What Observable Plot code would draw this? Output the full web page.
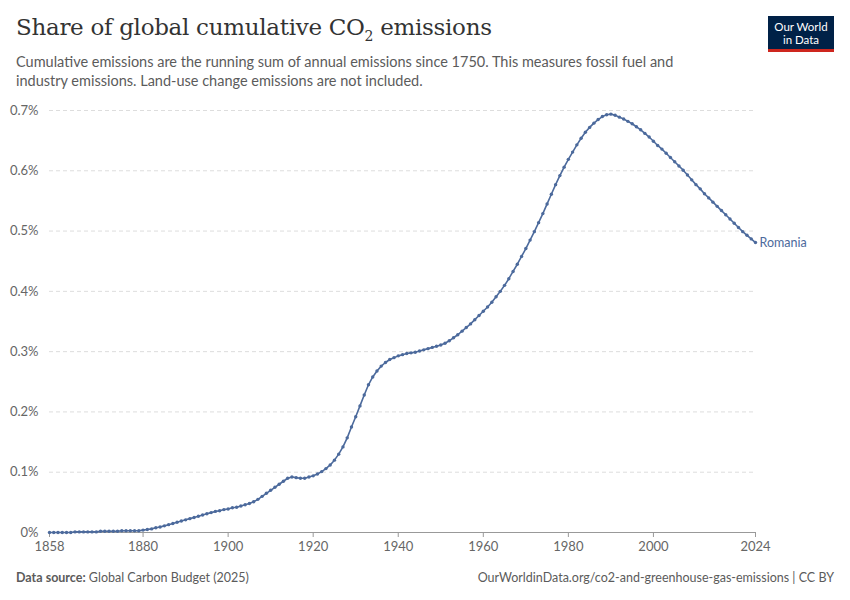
<!DOCTYPE html>
<html><head><meta charset="utf-8">
<script src="https://cdn.jsdelivr.net/npm/d3@7"></script>
<script src="https://cdn.jsdelivr.net/npm/@observablehq/plot@0.6"></script>
<style>
body{margin:0;background:#fff;font-family:Lato,sans-serif;}
#wrap{position:relative;width:850px;height:600px;}
h1{font-family:"DejaVu Serif",serif;font-weight:normal;font-size:23px;color:#333;margin:0;position:absolute;left:16px;top:14px;letter-spacing:-0.3px}
.sub{position:absolute;left:16px;top:52px;width:700px;font-size:14.5px;color:#5b5b5b;line-height:19px}
.logo{position:absolute;right:16px;top:16px;width:66px;height:36px;background:#002147;color:#fff;font-size:11.5px;text-align:center;line-height:13px;padding-top:4px;box-sizing:border-box;border-bottom:3px solid #ce261e}
#chart{position:absolute;left:0;top:96px}
.foot{position:absolute;top:570px;font-size:12.5px;color:#5b5b5b}
</style></head><body><div id="wrap">
<h1>Share of global cumulative CO<sub style="font-size:14px">2</sub> emissions</h1>
<div class="sub">Cumulative emissions are the running sum of annual emissions since 1750. This measures fossil fuel and industry emissions. Land-use change emissions are not included.</div>
<div class="logo">Our World<br>in Data</div>
<div id="chart"></div>
<div class="foot" style="left:16px"><b>Data source:</b> Global Carbon Budget (2025)</div>
<div class="foot" style="right:16px">OurWorldinData.org/co2-and-greenhouse-gas-emissions | CC BY</div>
</div>
<script>
const startYear = 1858;
const share = [
0,0,0,0,0,0,0.001,0.001,0.001,0.001,0.001,0.001,
0.002,0.002,0.002,0.002,0.002,0.003,0.003,0.003,0.003,0.003,
0.004,0.005,0.006,0.008,0.009,0.011,0.013,0.015,0.017,0.019,
0.021,0.023,0.025,0.027,0.029,0.031,0.033,0.035,0.036,0.038,
0.039,0.041,0.042,0.044,0.046,0.048,0.051,0.055,0.060,0.065,
0.070,0.075,0.080,0.085,0.090,0.092,0.091,0.090,0.090,0.092,
0.094,0.097,0.101,0.106,0.112,0.120,0.130,0.142,0.157,0.175,
0.192,0.210,0.228,0.245,0.258,0.268,0.276,0.282,0.287,0.290,
0.293,0.295,0.297,0.298,0.299,0.301,0.303,0.305,0.307,0.309,
0.311,0.314,0.318,0.323,0.328,0.334,0.340,0.346,0.353,0.360,
0.367,0.374,0.382,0.391,0.400,0.410,0.421,0.433,0.445,0.458,
0.471,0.485,0.499,0.514,0.529,0.545,0.561,0.577,0.592,0.606,
0.619,0.631,0.643,0.654,0.664,0.672,0.679,0.685,0.690,0.693,
0.694,0.692,0.689,0.686,0.682,0.678,0.673,0.668,0.662,0.656,
0.649,0.642,0.636,0.629,0.622,0.615,0.608,0.601,0.593,0.585,
0.577,0.570,0.562,0.555,0.548,0.541,0.534,0.527,0.520,0.513,
0.506,0.499,0.493,0.487,0.481];
const xTicks = [1858,1880,1900,1920,1940,1960,1980,2000,2024];
const yTicks = [0,0.1,0.2,0.3,0.4,0.5,0.6,0.7];
const country = "Romania";
const data = share.map((v,i)=>({year:startYear+i, v}));
const last = data[data.length-1];
const color = "#4c6a9c";
const plot = Plot.plot({
  width:850, height:468, marginLeft:49, marginRight:95, marginTop:14, marginBottom:32,
  style:{fontFamily:"Lato,sans-serif", fontSize:"13px", color:"#666"},
  x:{domain:[1858,2024], label:null},
  y:{domain:[0,0.7], label:null},
  marks:[
    Plot.gridY(yTicks,{stroke:"#ddd", strokeOpacity:1, strokeDasharray:"4,3"}),
    Plot.ruleY([0],{stroke:"#999"}),
    Plot.axisX({ticks:xTicks, tickFormat:d=>String(d), tickSize:5, stroke:"#999", fill:"#666"}),
    Plot.axisY({ticks:yTicks, tickFormat:d=>(d===0?"0":d.toFixed(1))+"%", tickSize:0, dx:-2, fill:"#666"}),
    Plot.line(data,{x:"year", y:"v", stroke:color, strokeWidth:1.6}),
    Plot.dot(data,{x:"year", y:"v", fill:color, r:1.7}),
    Plot.text([last],{x:"year", y:"v", text:()=>country, dx:4, textAnchor:"start", fill:color, fontSize:12.5})
  ]
});
document.getElementById("chart").append(plot);
</script></body></html>
